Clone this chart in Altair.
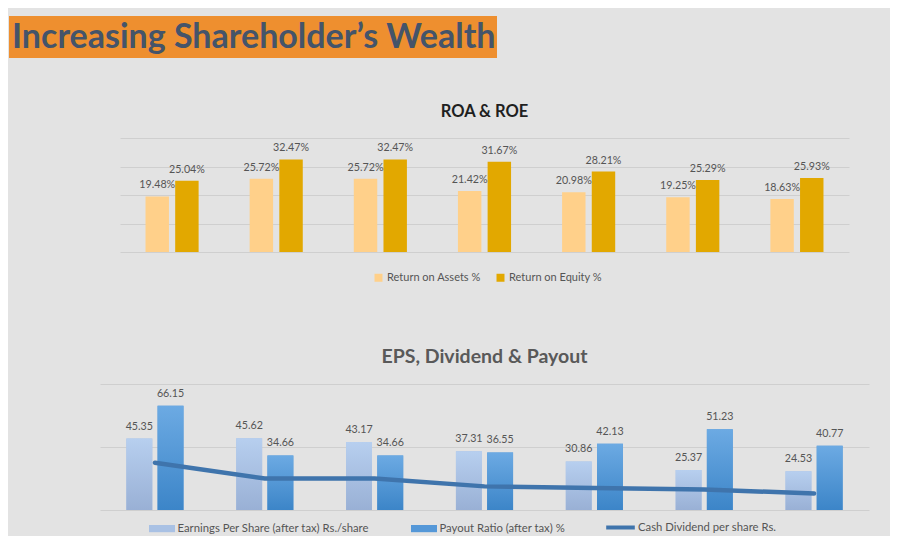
import altair as alt
import pandas as pd

# ---------------- data ----------------
periods = ["P1", "P2", "P3", "P4", "P5", "P6", "P7"]
roa = [19.48, 25.72, 25.72, 21.42, 20.98, 19.25, 18.63]
roe = [25.04, 32.47, 32.47, 31.67, 28.21, 25.29, 25.93]
eps = [45.35, 45.62, 43.17, 37.31, 30.86, 25.37, 24.53]
payout = [66.15, 34.66, 34.66, 36.55, 42.13, 51.23, 40.77]
dividend = [30, 20, 20, 15, 14, 13, 10.5]

roa_series = ["Return on Assets %", "Return on Equity  %"]
eps_series = ["Earnings Per Share (after tax) Rs./share", "Payout Ratio (after tax)  %"]
div_series = ["Cash Dividend per share Rs."]
roa_ticks = [0, 10, 20, 30, 40]
eps_ticks = [0, 20, 40, 60, 80]

main_title = "Increasing Shareholder\u2019s Wealth"
roa_title = "ROA & ROE"
eps_title = "EPS, Dividend & Payout"

# ---------------- style ----------------
BG = "#e3e3e3"
FONT = "Lato"
GRID = "#cfcfcf"
TXT = "#555555"


def vgrad(top, bottom):
    return {"gradient": "linear", "x1": 0, "y1": 0, "x2": 0, "y2": 1,
            "stops": [{"offset": 0, "color": top}, {"offset": 1, "color": bottom}]}


roa_df = pd.DataFrame({
    "period": periods * 2,
    "series": [roa_series[0]] * len(periods) + [roa_series[1]] * len(periods),
    "value": roa + roe,
})
roa_df["label"] = roa_df["value"].map(lambda v: f"{v:.2f}%")

eps_df = pd.DataFrame({
    "period": periods * 2,
    "series": [eps_series[0]] * len(periods) + [eps_series[1]] * len(periods),
    "value": eps + payout,
})
eps_df["label"] = eps_df["value"].map(lambda v: f"{v:.2f}")

div_df = pd.DataFrame({
    "period": periods,
    "value": dividend,
    "series": div_series * len(periods),
})


def spacer(w):
    # empty, invisible block used only to indent a row
    return alt.Chart(pd.DataFrame({"s": [""]})).mark_text().encode(
        text="s:N"
    ).properties(width=w, height=1)


def y_axis(ticks):
    return alt.Axis(values=ticks, grid=True, labels=False, ticks=False, domain=False,
                    domainColor="transparent", tickColor="transparent",
                    title=None, gridColor=GRID)


# ---------------- title banner ----------------
title_chart = alt.Chart(pd.DataFrame({"t": [main_title]})).mark_text(
    font=FONT, fontSize=34, fontWeight="bold", color="#44546a",
    align="left", baseline="middle",
).encode(
    text="t:N", x=alt.value(3), y=alt.value(22),
).properties(width=488, height=42,
             view=alt.ViewBackground(fill="#ee8f2f", stroke="transparent", strokeWidth=0))

# ---------------- ROA & ROE ----------------
x_roa = alt.X("period:N", sort=periods, axis=None,
              scale=alt.Scale(paddingInner=0.49, paddingOuter=0.245))
xo_roa = alt.XOffset("series:N", sort=roa_series,
                     scale=alt.Scale(domain=roa_series, paddingInner=0.21, paddingOuter=0))
y_roa = alt.Y("value:Q", scale=alt.Scale(domain=[0, 40], nice=False), axis=y_axis(roa_ticks))
roa_base = alt.Chart(roa_df).encode(x=x_roa, xOffset=xo_roa, y=y_roa)
roa_bars = roa_base.mark_bar().encode(
    color=alt.Color("series:N", sort=roa_series,
                    scale=alt.Scale(domain=roa_series, range=["#ffd08a", "#e2a800"]),
                    legend=alt.Legend(orient="none", legendX=253, legendY=134,
                                      direction="horizontal", title=None,
                                      symbolType="square", symbolSize=64, symbolStrokeWidth=0,
                                      labelFont=FONT, labelFontSize=11, labelColor=TXT,
                                      labelLimit=300,
                                      columnPadding=14, labelOffset=3, padding=0))
)
roa_labels = roa_base.mark_text(font=FONT, fontSize=10.7, color=TXT,
                                baseline="alphabetic", dy=-8).encode(text="label:N")
roa_chart = alt.layer(roa_bars, roa_labels).properties(
    width=729, height=114,
    view=alt.ViewBackground(stroke="transparent", strokeWidth=0),
    title=alt.TitleParams(roa_title, font=FONT, fontSize=16.5, fontWeight="bold",
                          color="#1f1f1f", anchor="middle", frame="group", offset=18),
)

# ---------------- EPS, Dividend & Payout ----------------
x_eps = alt.X("period:N", sort=periods, axis=None,
              scale=alt.Scale(paddingInner=0.48, paddingOuter=0.24))
xo_eps = alt.XOffset("series:N", sort=eps_series,
                     scale=alt.Scale(domain=eps_series, paddingInner=0.17, paddingOuter=0))
y_eps = alt.Y("value:Q", scale=alt.Scale(domain=[0, 80], nice=False), axis=y_axis(eps_ticks))
eps_base = alt.Chart(eps_df).encode(x=x_eps, xOffset=xo_eps, y=y_eps)
eps_bars = eps_base.mark_bar().encode(
    color=alt.Color("series:N", sort=eps_series,
                    scale=alt.Scale(domain=eps_series, range=["#a9c1e4", "#5598d8"]),
                    legend=alt.Legend(orient="none", legendX=55.5, legendY=138,
                                      direction="horizontal", title=None,
                                      symbolType="M-2,-0.55L2,-0.55L2,0.55L-2,0.55Z",
                                      symbolSize=169, symbolStrokeWidth=0,
                                      labelFont=FONT, labelFontSize=11.3, labelColor=TXT,
                                      labelLimit=300,
                                      columnPadding=41, labelOffset=9, padding=0))
)
eps_shade = eps_base.mark_bar().encode(
    fill=alt.condition(f"datum.series === '{eps_series[0]}'",
                       alt.value(vgrad("#b7cfef", "#99b0d5")),
                       alt.value(vgrad("#6caae3", "#3c85c8"))),
)
eps_labels = eps_base.mark_text(font=FONT, fontSize=10.7, color=TXT,
                                baseline="alphabetic", dy=-9).encode(text="label:N")
div_line = alt.Chart(div_df).mark_line(strokeWidth=4.5, strokeCap="round").encode(
    x=x_eps, y=alt.Y("value:Q"),
    stroke=alt.Stroke("series:N",
                      scale=alt.Scale(domain=div_series, range=["#3f74ac"]),
                      legend=alt.Legend(orient="none", legendX=512, legendY=135,
                                        direction="horizontal", title=None,
                                        symbolType="M-2.2,0L2.2,0", symbolSize=169,
                                        symbolStrokeWidth=4,
                                        labelFont=FONT, labelFontSize=11.3, labelColor=TXT,
                                        labelLimit=300,
                                        labelOffset=9, padding=0)),
)
eps_chart = alt.layer(eps_bars, eps_shade, div_line, eps_labels).properties(
    width=769, height=126,
    view=alt.ViewBackground(stroke="transparent", strokeWidth=0),
    title=alt.TitleParams(eps_title, font=FONT, fontSize=19.5, fontWeight="bold",
                          color="#595959", anchor="middle", frame="group", offset=17),
)

roa_row = alt.hconcat(spacer(111), roa_chart, spacing=0).resolve_scale(
    color="independent").resolve_legend(color="independent")
eps_row = alt.hconcat(spacer(91), eps_chart, spacing=0).resolve_scale(
    color="independent", stroke="independent").resolve_legend(
    color="independent", stroke="independent")

charts = alt.vconcat(roa_row, eps_row, spacing=63).resolve_scale(
    x="independent", y="independent", xOffset="independent", color="independent",
    stroke="independent",
).resolve_legend(color="independent", stroke="independent")

chart = alt.vconcat(title_chart, charts, spacing=45).properties(
    background=BG,
    padding={"left": 1, "top": 8, "right": 21, "bottom": 0},
).configure(font=FONT).configure_view(stroke="transparent", strokeWidth=0)

chart.save("out.html", embed_options={"renderer": "svg", "actions": False})
